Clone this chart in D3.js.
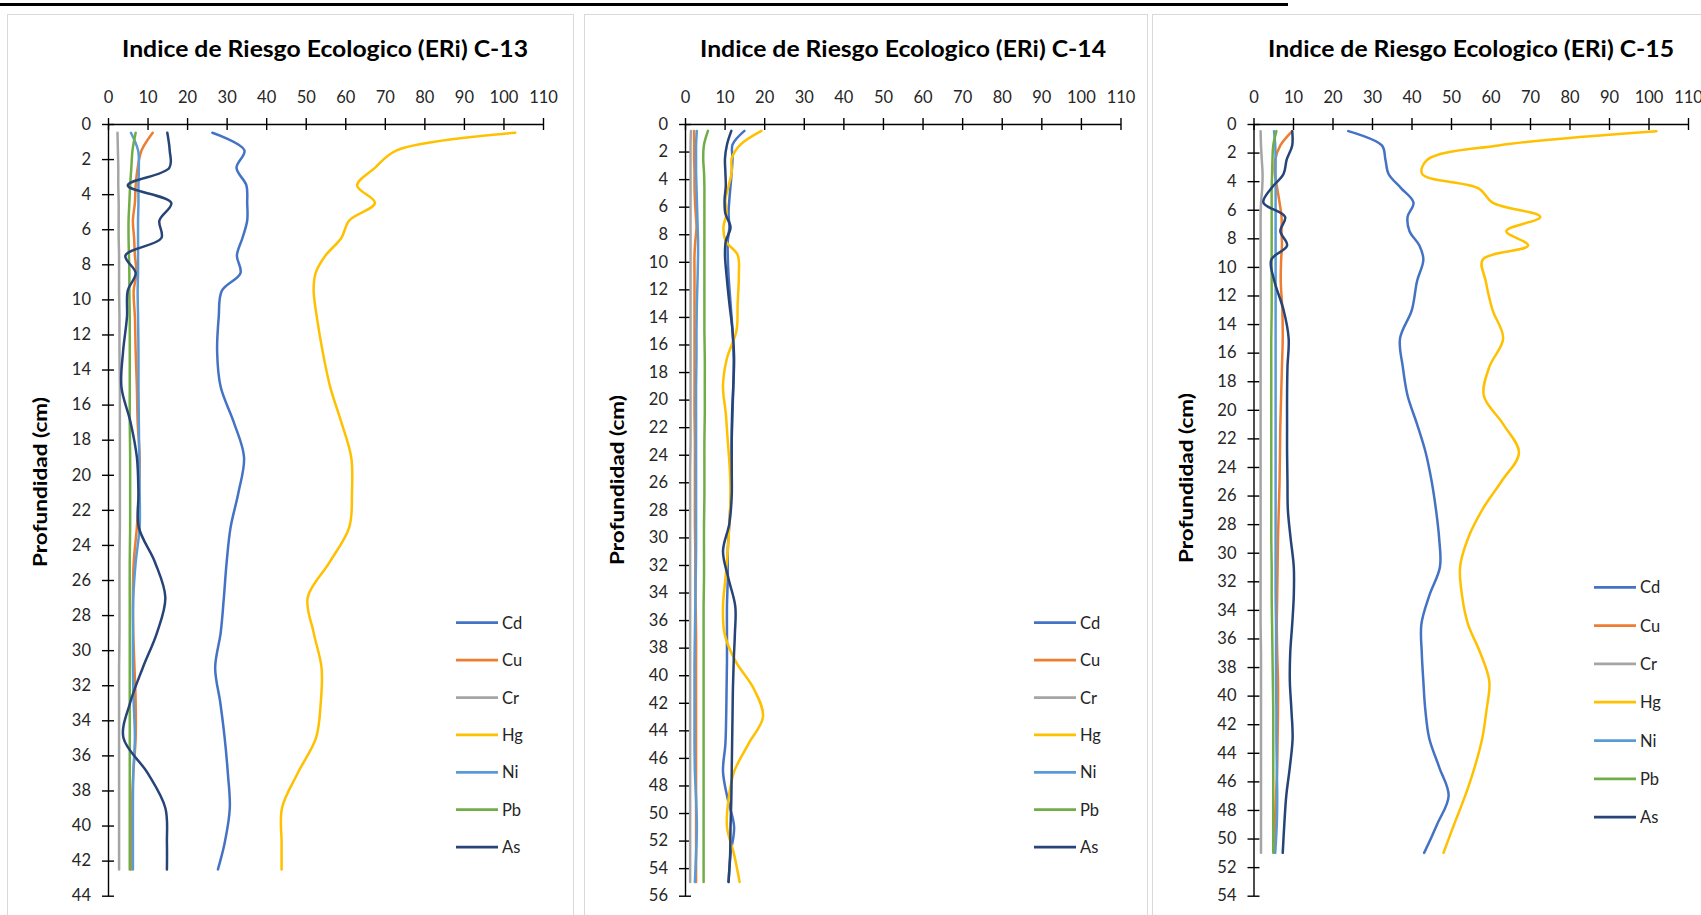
<!DOCTYPE html>
<html><head><meta charset="utf-8">
<script src="https://cdn.jsdelivr.net/npm/d3@7"></script>
<style>
body{margin:0;background:#fff;}
svg{display:block;font-family:Lato,"Open Sans",sans-serif;}
</style>
</head><body>
<svg id="c" width="1701" height="915"></svg>
<script>
// ---------- data ----------
const metals = ["Cd","Cu","Cr","Hg","Ni","Pb","As"];
const metalColors = ["#4472C4","#ED7D31","#A5A5A5","#FFC000","#5B9BD5","#70AD47","#264478"];
const xTickValues = [0,10,20,30,40,50,60,70,80,90,100,110];
const titles = ["Indice de Riesgo Ecologico (ERi) C-13","Indice de Riesgo Ecologico (ERi) C-14","Indice de Riesgo Ecologico (ERi) C-15"];
const yAxisTitle = "Profundidad (cm)";

// C-13
const depthC13 = [0.5,1.5,2.5,3.5,4.5,5.5,6.5,7.5,8.5,9.5,11,13,15,17,19,21,23,25,27,29,31,33,35,37,39,41,42.5];
const cdC13 = [26.4,34.5,32.5,35,35.2,35.2,34,32.6,33.5,28.8,28,27.6,28.5,31.8,34.4,33,31,30,29.3,28.5,27.1,28.4,29.5,30.3,30.8,29.5,27.8];
const cuC13 = [11.3,8.5,7.5,7,6.8,6.3,6.6,6.8,7.2,6.5,6.8,7,7.3,7.5,8,7.8,7.3,6.5,6.3,6.4,6.7,7,7,6.4,6,5.8,5.8];
const crC13 = [2.4,2.5,2.6,2.6,2.7,2.7,2.7,2.8,2.8,2.8,2.9,2.9,3,3,3,3,3,2.9,2.9,2.9,2.8,2.8,2.8,2.8,2.8,2.8,2.8];
const hgC13 = [103,73,67.5,63,67.5,61,59,55,52.5,52,52.8,54.3,56.2,59,61.5,61.7,61,56,50.5,52,54,53.8,52.6,48,44,43.9,43.9];
const niC13 = [5.8,7.6,7.8,7.7,7.7,7.6,7.6,7.6,7.6,7.5,7.6,7.7,7.7,7.8,7.9,8,8,7,6.4,6.3,6.3,6.5,6.8,6.4,6.3,6.3,6.3];
const pbC13 = [7,6.2,5.9,5.6,5.4,5.2,5.2,5.3,5.4,5.4,5.5,5.5,5.5,5.5,5.6,5.6,5.6,5.5,5.5,5.5,5.5,5.5,5.5,5.5,5.5,5.5,5.5];
const asC13 = [15,15.6,15.5,5,16,13,13.5,4.4,7,5,4.8,3.8,3.4,5.7,7.3,7.7,7.8,11.9,14.5,12.4,8.8,5.6,3.9,10,14.5,14.9,14.9];

// C-14
const depthC14 = [0.5,1.5,2.5,3.5,4.5,5.5,6.5,7.5,8.5,9.5,11,13,15,17,19,21,23,25,27,29,31,33,35,37,39,41,43,45,47,49,51,53,55];
const cdC14 = [15,12,12,11.8,11.5,11.2,11,11.2,10.8,10.8,11,11.5,12,12.3,12.2,12,11.8,11.8,11.6,11.2,10.8,10.8,10.6,10.6,10.6,10.5,10.4,10.2,9.6,10.8,12.4,11.5,11];
const cuC14 = [2.3,2.3,2.3,2.4,2.4,2.5,2.7,2.9,2.6,2.4,2.4,2.4,2.4,2.4,2.4,2.4,2.5,2.5,2.5,2.5,2.6,2.6,2.7,2.8,2.8,2.8,2.8,2.8,2.8,2.8,2.8,2.8,2.8];
const crC14 = [1.5,1.4,1.4,1.4,1.4,1.4,1.4,1.4,1.4,1.4,1.4,1.4,1.4,1.4,1.4,1.4,1.4,1.3,1.3,1.3,1.3,1.3,1.3,1.3,1.3,1.3,1.3,1.3,1.3,1.3,1.3,1.3,1.3];
const hgC14 = [19.3,14,11.8,11.8,11,10.2,10.5,9.7,10.3,13.3,13.6,13.3,13,10.6,9.6,10.3,10.8,11.3,11.5,11.2,10.8,10.2,9.6,10,12.8,17.4,19.7,16,12.4,11,10.6,12.4,13.8];
const niC14 = [3,2.8,2.8,2.8,2.9,3,3.1,3.2,3.3,3.3,3.2,3,2.9,2.9,2.8,2.8,2.8,2.8,2.8,2.8,2.8,2.7,2.6,2.5,2.4,2.4,2.4,2.4,2.5,2.8,3,2.8,2.5];
const pbC14 = [5.8,4.8,4.6,4.8,4.9,4.9,4.9,4.9,4.9,4.9,4.9,4.9,4.9,5,5,5,4.9,4.9,4.9,4.8,4.8,4.8,4.7,4.7,4.7,4.7,4.7,4.7,4.7,4.7,4.7,4.7,4.7];
const asC14 = [11.7,10.6,10.1,10.2,10.3,10,10.2,11.5,10.3,10.1,10.5,11.2,12,12.4,12.2,11.9,11.8,11.8,11.8,11.2,9.6,11,12.7,12.6,12.3,12.1,12,11.9,11.8,11.7,11.5,11.4,11];

// C-15
const depthC15 = [0.5,1.5,2.5,3.5,4.5,5.5,6.5,7.5,8.5,9.5,11,13,15,17,19,21,23,25,27,29,31,33,35,37,39,41,43,45,47,49,51];
const cdC15 = [24,32.5,33.4,34.2,37.4,40.5,39,39.5,42,43,41.4,40.1,37.1,37.8,39,41.4,43.6,45.1,46.2,47,47.2,44.5,42.5,42.6,43,43.5,44.5,47,49.4,46.5,43.2];
const cuC15 = [9.8,6.8,5.5,5.4,6,6.6,7.1,7.1,7.2,7,6.9,7.3,7.4,7.2,7,6.8,6.7,6.6,6.4,6.2,6.1,6,5.9,6,6.2,6.2,6.1,6,5.7,5.4,5.3];
const crC15 = [1.8,1.9,2.1,2.3,2.2,1.9,1.8,1.8,1.8,1.8,1.8,1.8,1.8,1.8,1.8,1.8,1.8,1.8,1.8,1.8,1.8,1.8,1.8,1.9,1.9,1.9,1.9,1.9,1.9,1.9,1.9];
const hgC15 = [102,62,44,42.7,57,60.5,72.6,64,69.5,58,58.8,60.5,63.2,59.7,58.3,63.2,67.2,62.8,57.9,54.3,52.3,52.8,54.3,57.4,59.7,59,57.9,56,53.6,50.8,48.1];
const niC15 = [5.2,5.5,5.6,5.6,5.6,5.6,5.6,5.6,5.6,5.6,5.6,5.6,5.6,5.6,5.6,5.6,5.6,5.6,5.6,5.6,5.6,5.6,5.7,5.7,5.7,5.8,5.8,5.9,6,5.9,5.5];
const pbC15 = [5.8,5,4.8,4.7,4.6,4.6,4.6,4.6,4.6,4.6,4.6,4.6,4.5,4.5,4.5,4.5,4.5,4.5,4.5,4.5,4.6,4.6,4.7,4.8,4.9,5,5,5,5,5,5];
const asC15 = [9.8,9.8,8.4,7.6,4.5,2.5,8,6.8,8.5,4.5,5.3,7.6,8.9,8.6,8.5,8.5,8.5,8.6,8.7,9.4,10.2,10.2,9.8,9.3,9.2,9.6,9.9,9.2,8.3,7.8,7.4];

const depthMax = [44, 56, 54];

// ---------- layout ----------
const panels = [
  {title:titles[0], depths:depthC13, series:[cdC13,cuC13,crC13,hgC13,niC13,pbC13,asC13], yMax:depthMax[0],
   x0:108, x1:543, box:[7.5,14.5,566,905], titleX:325, ylabX:40, ylabY:482, legX:456, legY:622.7, legDy:37.4},
  {title:titles[1], depths:depthC14, series:[cdC14,cuC14,crC14,hgC14,niC14,pbC14,asC14], yMax:depthMax[1],
   x0:685, x1:1120.5, box:[584.5,14.5,563,905], titleX:903, ylabX:617, ylabY:480, legX:1034, legY:622.7, legDy:37.4},
  {title:titles[2], depths:depthC15, series:[cdC15,cuC15,crC15,hgC15,niC15,pbC15,asC15], yMax:depthMax[2],
   x0:1253.5, x1:1688, box:[1152.5,14.5,600,905], titleX:1471, ylabX:1186, ylabY:478, legX:1594, legY:587.3, legDy:38.3}
];
const plotTop = 124, plotBottom = 895.7;

const svg = d3.select("#c");
svg.append("rect").attr("width",1701).attr("height",915).attr("fill","#fff");

// top black rule
svg.append("line").attr("x1",0).attr("x2",1288).attr("y1",4.5).attr("y2",4.5)
  .attr("stroke","#000").attr("stroke-width",3);

panels.forEach(p => {
  const g = svg.append("g");
  g.append("rect").attr("x",p.box[0]).attr("y",p.box[1]).attr("width",p.box[2]).attr("height",p.box[3])
    .attr("fill","#fff").attr("stroke","#d9d9d9").attr("stroke-width",1);

  const x = d3.scaleLinear().domain([0,110]).range([p.x0,p.x1]);
  const y = d3.scaleLinear().domain([0,p.yMax]).range([plotTop,plotBottom]);

  // title
  g.append("text").attr("x",p.titleX).attr("y",57).attr("text-anchor","middle")
    .attr("font-size",23).attr("font-weight",700).attr("fill","#000")
    .attr("textLength",406).attr("lengthAdjust","spacingAndGlyphs").text(p.title);

  // y axis title
  g.append("text").attr("transform",`translate(${p.ylabX},${p.ylabY}) rotate(-90)`)
    .attr("text-anchor","middle").attr("dominant-baseline","central")
    .attr("font-size",18).attr("font-weight",700).attr("fill","#000")
    .attr("textLength",170).attr("lengthAdjust","spacingAndGlyphs").text(yAxisTitle);

  // x axis (top)
  const xAxis = d3.axisTop(x).tickValues(xTickValues).tickSizeInner(6).tickSizeOuter(0).tickPadding(15);
  const gx = g.append("g").attr("transform",`translate(0,${plotTop})`).call(xAxis);
  gx.selectAll(".tick line").attr("y1",6);
  // y axis
  const yTicks = d3.range(0, p.yMax+1, 2);
  const yAxis = d3.axisLeft(y).tickValues(yTicks).tickSizeInner(6).tickSizeOuter(0).tickPadding(11);
  const gy = g.append("g").attr("transform",`translate(${p.x0},0)`).call(yAxis);
  gy.selectAll(".tick line").attr("x1",6);
  [gx,gy].forEach(a=>{
    a.select(".domain").attr("stroke","#000").attr("stroke-width",1.4);
    a.selectAll(".tick line").attr("stroke","#000").attr("stroke-width",1.4);
    a.selectAll(".tick text").attr("font-size",16.5).attr("fill","#262626").attr("font-family","Lato, 'Open Sans', sans-serif");
  });

  // series
  const line = d3.line().curve(d3.curveCatmullRom.alpha(0.5))
    .x(d=>x(d[1])).y(d=>y(d[0]));
  p.series.forEach((vals,i)=>{
    const pts = p.depths.map((d,k)=>[d, vals[k]]);
    g.append("path").datum(pts).attr("d",line).attr("fill","none")
      .attr("stroke",metalColors[i]).attr("stroke-width",2.5).attr("stroke-linejoin","round").attr("stroke-linecap","round");
  });

  // legend
  metals.forEach((m,i)=>{
    const ly = p.legY + i*p.legDy;
    g.append("line").attr("x1",p.legX).attr("x2",p.legX+42).attr("y1",ly).attr("y2",ly)
      .attr("stroke",metalColors[i]).attr("stroke-width",2.75);
    g.append("text").attr("x",p.legX+46).attr("y",ly).attr("dominant-baseline","central")
      .attr("font-size",16.5).attr("fill","#262626").text(m);
  });
});
</script>
</body></html>
